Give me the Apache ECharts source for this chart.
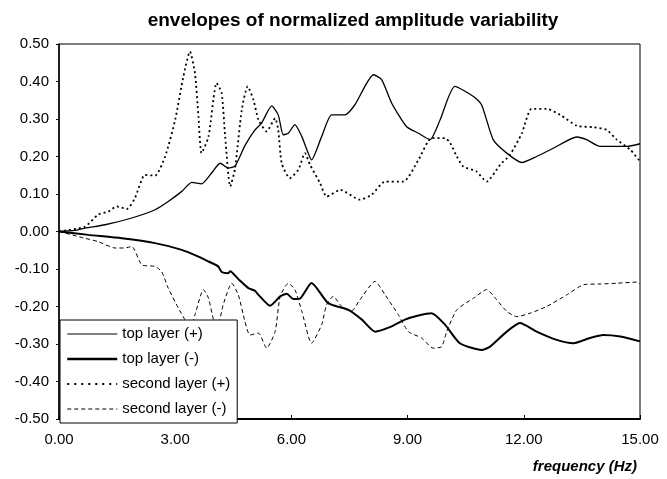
<!DOCTYPE html>
<html>
<head>
<meta charset="utf-8">
<script src="https://cdn.jsdelivr.net/npm/echarts@6/dist/echarts.min.js"></script>
<style>html,body{margin:0;padding:0;background:#fff;}#c{width:667px;height:479px;}</style>
</head>
<body>
<div id="c"></div>
<script>
var chartTitle = 'envelopes of normalized amplitude variability';
var xAxisName = 'frequency (Hz)';
var seriesNames = ['top layer (+)', 'top layer (-)', 'second layer (+)', 'second layer (-)'];
var xTicks = [0, 3, 6, 9, 12, 15];
var yTicks = [-0.5, -0.4, -0.3, -0.2, -0.1, 0, 0.1, 0.2, 0.3, 0.4, 0.5];

// [frequency (Hz), value]
var topLayerPlus = [[0,0],[0.4,0.003],[0.67,0.009],[1.19,0.018],[1.88,0.036],[2.48,0.058],[2.82,0.08],[3.17,0.107],[3.43,0.131],[3.68,0.127],[3.94,0.156],[4.16,0.182],[4.37,0.169],[4.55,0.175],[4.8,0.229],[5.06,0.271],[5.23,0.289],[5.49,0.335],[5.66,0.311],[5.79,0.258],[5.92,0.262],[6.09,0.285],[6.27,0.253],[6.4,0.218],[6.52,0.191],[6.78,0.253],[7.04,0.311],[7.38,0.311],[7.64,0.338],[8.12,0.418],[8.33,0.405],[8.59,0.342],[8.97,0.28],[9.28,0.262],[9.58,0.245],[9.84,0.298],[10.22,0.387],[10.7,0.36],[10.91,0.338],[11.21,0.245],[11.56,0.209],[11.95,0.184],[12.33,0.2],[12.76,0.222],[13.37,0.252],[13.62,0.245],[13.97,0.227],[14.66,0.227],[15,0.234]];
var topLayerMinus = [[0,0],[0.76,-0.009],[1.62,-0.018],[2.48,-0.031],[3.17,-0.049],[3.6,-0.067],[3.86,-0.08],[4.11,-0.093],[4.2,-0.108],[4.37,-0.111],[4.42,-0.106],[4.63,-0.127],[4.89,-0.151],[5.06,-0.158],[5.15,-0.169],[5.45,-0.198],[5.71,-0.173],[5.88,-0.166],[6.05,-0.18],[6.22,-0.179],[6.52,-0.137],[6.95,-0.191],[7.47,-0.209],[7.82,-0.235],[8.16,-0.267],[8.59,-0.253],[8.93,-0.235],[9.28,-0.224],[9.62,-0.218],[9.97,-0.249],[10.35,-0.298],[10.91,-0.316],[11.13,-0.307],[11.56,-0.267],[11.9,-0.244],[12.33,-0.267],[12.85,-0.289],[13.28,-0.298],[13.71,-0.284],[14.05,-0.276],[14.49,-0.28],[15,-0.293]];
var secondLayerPlus = [[0,0],[0.67,0.013],[1.01,0.045],[1.27,0.053],[1.49,0.067],[1.75,0.06],[1.96,0.089],[2.22,0.151],[2.48,0.149],[2.74,0.2],[3.0,0.298],[3.21,0.413],[3.38,0.48],[3.51,0.422],[3.6,0.307],[3.68,0.209],[3.86,0.253],[4.07,0.396],[4.2,0.369],[4.29,0.253],[4.42,0.12],[4.54,0.165],[4.72,0.325],[4.87,0.387],[5.02,0.351],[5.15,0.298],[5.36,0.267],[5.58,0.302],[5.66,0.271],[5.75,0.182],[5.96,0.142],[6.18,0.165],[6.35,0.209],[6.48,0.178],[6.74,0.129],[6.91,0.093],[7.26,0.111],[7.77,0.085],[8.07,0.098],[8.42,0.133],[8.89,0.133],[9.28,0.191],[9.62,0.249],[9.97,0.249],[10.1,0.236],[10.27,0.2],[10.44,0.173],[10.78,0.16],[11.04,0.133],[11.39,0.178],[11.64,0.204],[11.95,0.262],[12.2,0.327],[12.59,0.327],[12.94,0.311],[13.37,0.282],[13.8,0.278],[14.14,0.271],[14.4,0.245],[14.75,0.218],[15,0.187]];
var secondLayerMinus = [[0,0],[0.67,-0.018],[1.01,-0.027],[1.45,-0.044],[1.7,-0.044],[1.88,-0.04],[2.14,-0.089],[2.48,-0.093],[2.65,-0.107],[2.82,-0.151],[3.08,-0.204],[3.25,-0.235],[3.38,-0.26],[3.51,-0.222],[3.73,-0.155],[3.86,-0.178],[3.99,-0.235],[4.1,-0.25],[4.24,-0.195],[4.46,-0.138],[4.63,-0.169],[4.8,-0.24],[4.93,-0.276],[5.15,-0.271],[5.36,-0.311],[5.58,-0.267],[5.71,-0.173],[5.92,-0.138],[6.09,-0.155],[6.27,-0.213],[6.52,-0.298],[6.78,-0.249],[6.91,-0.195],[7.08,-0.173],[7.3,-0.2],[7.56,-0.211],[7.77,-0.182],[8.16,-0.133],[8.42,-0.169],[8.76,-0.222],[9.02,-0.267],[9.36,-0.284],[9.66,-0.311],[9.88,-0.307],[10.01,-0.267],[10.27,-0.209],[10.7,-0.178],[11.04,-0.155],[11.3,-0.182],[11.56,-0.213],[11.82,-0.227],[12.16,-0.218],[12.59,-0.2],[13.11,-0.169],[13.54,-0.142],[13.97,-0.14],[14.4,-0.138],[14.92,-0.135],[15,-0.14]];

var FONT = '"Liberation Sans", Arial, Helvetica, sans-serif';
function fmt(v) { if (Math.abs(v) < 1e-9) v = 0; return v.toFixed(2); }

var chart = echarts.init(document.getElementById('c'), null, {renderer: 'canvas'});
var datasets = [topLayerPlus, topLayerMinus, secondLayerPlus, secondLayerMinus];
var styles = [
  {width: 1.3, type: 'solid', legendWidth: 1},
  {width: 2, type: 'solid', legendWidth: 2.5},
  {width: 1.8, type: [2, 3], legendWidth: 2.2},
  {width: 1, type: [4, 3], legendWidth: 1}
];
var series = datasets.map(function (d, i) {
  return {
    name: seriesNames[i],
    type: 'line',
    data: d,
    symbol: 'none',
    showSymbol: false,
    smooth: 0.2,
    lineStyle: {color: '#000', width: styles[i].width, type: styles[i].type},
    itemStyle: {color: '#000'},
    z: 2
  };
});
var legendData = seriesNames.map(function (n, i) {
  return {name: n, lineStyle: {width: styles[i].legendWidth, color: '#000',
    type: i === 2 ? [2, 5] : styles[i].type}};
});

chart.setOption({
  animation: false,
  backgroundColor: '#fff',
  textStyle: {fontFamily: FONT, color: '#000'},
  title: [
    {text: chartTitle, left: 348, top: 6, textAlign: 'center',
     textStyle: {fontFamily: FONT, fontSize: 19, fontWeight: 'bold', color: '#000'}},
    {text: xAxisName, right: 30, top: 459, padding: 0,
     textStyle: {fontFamily: FONT, fontSize: 15, fontWeight: 'bold', fontStyle: 'italic', color: '#000'}}
  ],
  grid: {left: 59, right: 27, top: 44, bottom: 60, show: true, borderColor: '#000', borderWidth: 1, backgroundColor: 'transparent'},
  legend: {
    orient: 'vertical', left: 60, top: 320,
    data: legendData,
    backgroundColor: '#fff', borderColor: '#000', borderWidth: 1,
    padding: [6, 7, 6, 6], itemGap: 9, itemWidth: 50, itemHeight: 14,
    selectedMode: false,
    itemStyle: {opacity: 0},
    textStyle: {fontFamily: FONT, fontSize: 15, color: '#000', lineHeight: 16}
  },
  xAxis: {
    type: 'value', min: xTicks[0], max: xTicks[xTicks.length - 1], interval: xTicks[1] - xTicks[0],
    axisLine: {show: true, onZero: false, lineStyle: {color: '#000', width: 2}},
    axisTick: {show: true, inside: true, length: 4, lineStyle: {color: '#000'}},
    axisLabel: {fontFamily: FONT, fontSize: 15, color: '#000', margin: 13, formatter: fmt},
    splitLine: {show: false}
  },
  yAxis: {
    type: 'value', min: yTicks[0], max: yTicks[yTicks.length - 1], interval: 0.1,
    axisLine: {show: true, onZero: false, lineStyle: {color: '#000', width: 1.5}},
    axisTick: {show: true, inside: false, length: 3, lineStyle: {color: '#000'}},
    axisLabel: {fontFamily: FONT, fontSize: 15, color: '#000', margin: 10, formatter: fmt},
    splitLine: {show: false}
  },
  series: series
});
</script>
</body>
</html>
